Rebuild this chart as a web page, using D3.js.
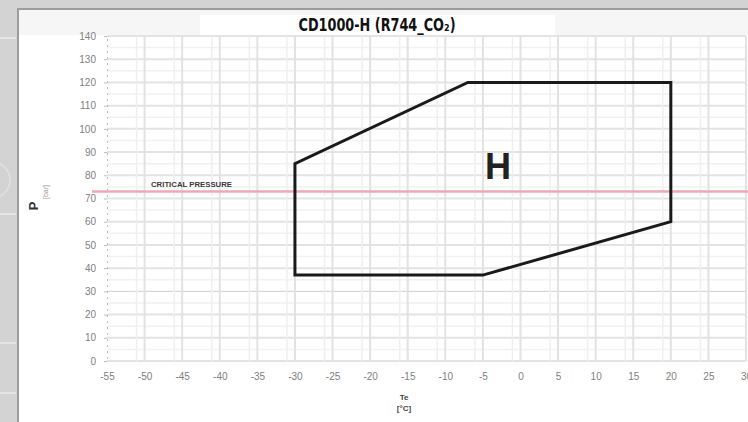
<!DOCTYPE html>
<html>
<head>
<meta charset="utf-8">
<script src="https://cdn.jsdelivr.net/npm/d3@7"></script>
<style>
  html, body { margin: 0; padding: 0; background: #d3d3d3; }
  svg { display: block; }
</style>
</head>
<body>
<div id="chart"></div>
<script>
// envelope of the compressor (Te in °C, P in bar)
const envelopeTe = [-30, -30, -7, 20, 20, -5];
const envelopeP = [37, 85, 120, 120, 60, 37];
const xTicks = [-55, -50, -45, -40, -35, -30, -25, -20, -15, -10, -5, 0, 5, 10, 15, 20, 25, 30];
const yTicks = [0, 10, 20, 30, 40, 50, 60, 70, 80, 90, 100, 110, 120, 130, 140];
const criticalPressure = 73;
const chartTitle = "CD1000-H (R744_CO\u2082)";
const envelopeName = "H";

const width = 748, height = 422;

const svg = d3.select("#chart").append("svg")
  .attr("width", width)
  .attr("height", height);

// page frame (grey strip left and top)
svg.append("rect").attr("width", width).attr("height", height).attr("fill", "#d3d3d3");
[38, 214, 343, 393].forEach(yy => {
  svg.append("line").attr("x1", 0).attr("x2", 16).attr("y1", yy).attr("y2", yy)
    .attr("stroke", "#e4e4e4").attr("stroke-width", 2);
});
svg.append("circle").attr("cx", -8).attr("cy", 180).attr("r", 18)
  .attr("fill", "none").attr("stroke", "#e0e0e0").attr("stroke-width", 1.5);
svg.append("rect").attr("x", 17).attr("y", 8).attr("width", width - 17).attr("height", height - 8)
  .attr("fill", "#9c9c9c");
svg.append("rect").attr("x", 19).attr("y", 10).attr("width", width - 19).attr("height", height - 10)
  .attr("fill", "#fff");
svg.append("rect").attr("x", 19).attr("y", 10).attr("width", width - 19).attr("height", 25)
  .attr("fill", "#f6f6f6");
svg.append("rect").attr("x", 200).attr("y", 15).attr("width", 355).attr("height", 20)
  .attr("fill", "#fff");

const x = d3.scaleLinear().domain([-55, 30]).range([107, 746]);
const y = d3.scaleLinear().domain([0, 140]).range([361, 36]);

const g = svg.append("g");

// grid
g.selectAll(".hminor").data(yTicks.slice(0, -1).map(d => d + 5)).join("line")
  .attr("x1", x(-55)).attr("x2", x(30))
  .attr("y1", d => y(d)).attr("y2", d => y(d))
  .attr("stroke", "#f1f1f1").attr("stroke-width", 1.5);
g.selectAll(".hgrid").data(yTicks).join("line")
  .attr("x1", x(-55)).attr("x2", x(30))
  .attr("y1", d => y(d)).attr("y2", d => y(d))
  .attr("stroke", d => d === 30 ? "#cfcfcf" : "#e3e3e3").attr("stroke-width", d => d === 30 ? 1 : 2);
g.selectAll(".vgrid").data(xTicks.slice(1)).join("line")
  .attr("x1", d => x(d)).attr("x2", d => x(d))
  .attr("y1", y(140)).attr("y2", y(0))
  .attr("stroke", "#e2e2e2").attr("stroke-width", 2);
g.selectAll(".vminor").data(xTicks.slice(1, -1)).join("line")
  .attr("x1", d => x(d) - 8).attr("x2", d => x(d) - 8)
  .attr("y1", y(140)).attr("y2", y(0))
  .attr("stroke", "#efefef").attr("stroke-width", 1.5);

// axes
const xAxis = g.append("g")
  .attr("transform", `translate(0,${y(0) + 6})`)
  .call(d3.axisBottom(x).tickValues(xTicks).tickSize(0).tickPadding(6).tickFormat(d => String(d)));
const yAxis = g.append("g")
  .attr("transform", `translate(${x(-55)},0)`)
  .call(d3.axisLeft(y).tickValues(yTicks).tickSize(3).tickPadding(8).tickFormat(d => String(d)));
[xAxis, yAxis].forEach(a => {
  a.select(".domain").attr("stroke", "#bbb").attr("stroke-dasharray", "2,4");
  a.selectAll(".tick line").attr("stroke", "#bbb");
  a.selectAll("text")
    .attr("fill", "#808080")
    .style("font-family", "'Liberation Sans', Arial, sans-serif")
    .style("font-size", "10px");
});
xAxis.select(".domain").remove();

// critical pressure
g.append("line")
  .attr("x1", 92).attr("x2", width)
  .attr("y1", y(criticalPressure)).attr("y2", y(criticalPressure))
  .attr("stroke", "#efa7b8").attr("stroke-width", 2.5);
g.append("text")
  .attr("x", 151).attr("y", y(criticalPressure) - 5)
  .attr("textLength", 81).attr("lengthAdjust", "spacingAndGlyphs")
  .style("font-family", "'Liberation Sans', Arial, sans-serif")
  .style("font-size", "8px").style("font-weight", "bold")
  .attr("fill", "#3a3a3a")
  .text("CRITICAL PRESSURE");

// envelope
const pts = envelopeTe.map((t, i) => [x(t), y(envelopeP[i])]);
g.append("path")
  .attr("d", d3.line()(pts) + "Z")
  .attr("fill", "none")
  .attr("stroke", "#1a1a1a")
  .attr("stroke-width", 3)
  .attr("stroke-linejoin", "miter");

g.append("text")
  .attr("x", x(-3)).attr("y", y(78.5))
  .attr("text-anchor", "middle")
  .style("font-family", "'Liberation Sans', Arial, sans-serif")
  .style("font-size", "36px").style("font-weight", "bold")
  .attr("fill", "#222")
  .text(envelopeName);

// title
svg.append("text")
  .attr("x", 377).attr("y", 31)
  .attr("text-anchor", "middle")
  .attr("textLength", 157).attr("lengthAdjust", "spacingAndGlyphs")
  .style("font-family", "'DejaVu Sans Condensed', 'DejaVu Sans', sans-serif")
  .style("font-size", "17px").style("font-weight", "bold")
  .attr("fill", "#111")
  .text(chartTitle);

// axis labels
const lab = svg.append("g")
  .style("font-family", "'Liberation Sans', Arial, sans-serif")
  .attr("fill", "#444");
lab.append("text").attr("x", 404).attr("y", 400).attr("text-anchor", "middle")
  .style("font-size", "8px").style("font-weight", "bold").text("Te");
lab.append("text").attr("x", 404).attr("y", 411).attr("text-anchor", "middle")
  .style("font-size", "8px").style("font-weight", "bold").text("[°C]");
lab.append("text")
  .attr("transform", "translate(38,206) rotate(-90)")
  .attr("text-anchor", "middle")
  .style("font-size", "13px").style("font-weight", "bold").attr("fill", "#333")
  .text("P");
lab.append("text")
  .attr("transform", "translate(48,192) rotate(-90)")
  .attr("text-anchor", "middle")
  .style("font-size", "7px").attr("fill", "#999")
  .text("[bar]");
</script>
</body>
</html>
